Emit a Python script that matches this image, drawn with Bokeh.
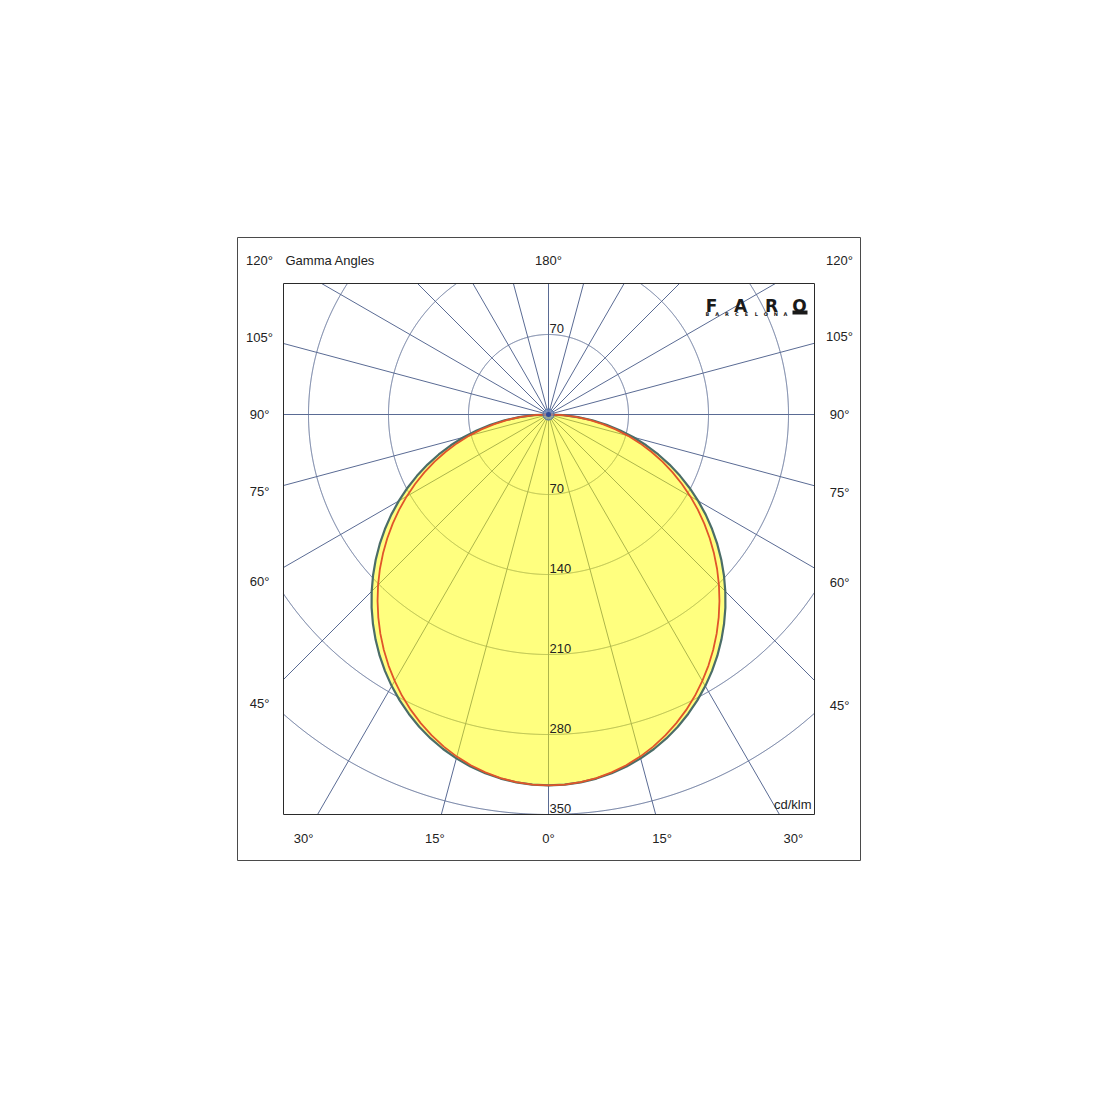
import numpy as np
from bokeh.plotting import figure
from bokeh.models import Range1d
from bokeh.core.properties import value
from bokeh.embed import file_html
from bokeh.resources import INLINE

# ---------------- data (cd/klm) ----------------
gamma_deg = [0, 2.5, 5, 7.5, 10, 12.5, 15, 17.5, 20, 22.5, 25, 27.5, 30, 32.5, 35, 37.5,
             40, 42.5, 45, 47.5, 50, 52.5, 55, 57.5, 60, 62.5, 65, 67.5, 70, 72.5,
             75, 77.5, 80, 82.5, 85, 87.5, 90]
c0_c180 = [324.6, 324.2, 323.1, 321.3, 318.7, 315.5, 311.5, 306.9, 301.6, 295.7,
           289.1, 282.0, 274.4, 266.2, 257.6, 248.5, 239.0, 229.1, 218.8, 208.2,
           197.3, 186.1, 174.7, 163.1, 151.2, 139.2, 127.0, 114.6, 102.2, 89.6,
           77.0, 64.3, 51.5, 38.7, 25.8, 12.9, 0.0]
c90_c270 = [324.6, 324.2, 322.9, 320.9, 318.0, 314.3, 309.9, 304.7, 298.8, 292.3,
            285.2, 277.5, 269.2, 260.5, 251.3, 241.7, 231.7, 221.4, 210.9, 200.1,
            189.0, 177.8, 166.4, 154.9, 143.3, 131.6, 119.8, 107.9, 96.0, 84.1,
            72.1, 60.1, 48.1, 36.1, 24.1, 12.0, 0.0]
ring_values = [70, 140, 210, 280, 350]
ring_labels = ["70", "140", "210", "280", "350"]
side_angles = [45, 60, 75, 90, 105, 120]
side_labels = ["45°", "60°", "75°", "90°", "105°", "120°"]
bottom_angles = [-30, -15, 0, 15, 30]
bottom_labels = ["30°", "15°", "0°", "15°", "30°"]
top_label = "180°"
title_text = "Gamma Angles"
unit_label = "cd/klm"
radial_step = 15
logo_letters = ["F", "A", "R", "O"]
logo_sub = list("BARCELONA")

# ---------------- geometry ----------------
R_MAX = 350.0
PX = R_MAX / 400.0          # data units per screen pixel
W = H = 1084
CX, CY = 548, 414           # centre of the diagram on the page (px)

# plot area (relative to centre, in px)
L, R, T, B = -265 * PX, 266 * PX, 131 * PX, -400 * PX
# outer frame
OL, OR, OT, OB = -311 * PX, 312 * PX, 177 * PX, -446 * PX

FONT = value("Liberation Sans")
GRID = "#5a6b94"
TXT = "#222222"

p = figure(width=W, height=H, output_backend="svg", toolbar_location=None,
           x_range=Range1d(-CX * PX, (W - CX) * PX), y_range=Range1d((CY - H) * PX, CY * PX),
           min_border=0, x_axis_location=None, y_axis_location=None,
           outline_line_color=None, background_fill_color="white")
p.xgrid.visible = False
p.ygrid.visible = False

# outer frame
p.quad(left=[OL], right=[OR], top=[OT], bottom=[OB], fill_color=None,
       line_color="#4a4a4a", line_width=1)

# ---- rings clipped to plot area ----
eps = 1e-6
th = np.radians(np.arange(0, 360.05, 0.1))
xs, ys = [], []
for r in ring_values:
    cx = r * np.cos(th)
    cy = r * np.sin(th)
    inside = (cx >= L - eps) & (cx <= R + eps) & (cy >= B - eps) & (cy <= T + eps)
    seg_x, seg_y = [], []
    for xi, yi, ok in zip(cx, cy, inside):
        if ok:
            seg_x.append(xi)
            seg_y.append(yi)
        else:
            if len(seg_x) > 1:
                xs.append(seg_x)
                ys.append(seg_y)
            seg_x, seg_y = [], []
    if len(seg_x) > 1:
        xs.append(seg_x)
        ys.append(seg_y)
p.multi_line(xs, ys, line_color=GRID, line_width=1)

# ---- radial lines ----
rx, ry = [], []
for g in range(0, 360, radial_step):
    a = np.radians(g)
    dx, dy = np.sin(a), -np.cos(a)
    ts = []
    if dx > 1e-9:
        ts.append(R / dx)
    elif dx < -1e-9:
        ts.append(L / dx)
    if dy > 1e-9:
        ts.append(T / dy)
    elif dy < -1e-9:
        ts.append(B / dy)
    t = min(ts)
    rx.append([0, t * dx])
    ry.append([0, t * dy])
p.multi_line(rx, ry, line_color=GRID, line_width=1)

# ---- photometric curves ----
g_full = [-g for g in gamma_deg[::-1]] + gamma_deg[1:]
def curve(vals):
    v_full = vals[::-1] + vals[1:]
    a = np.radians(g_full)
    return list(np.array(v_full) * np.sin(a)), list(-np.array(v_full) * np.cos(a))

gx, gy = curve(c0_c180)
redx, redy = curve(c90_c270)
p.patch(gx, gy, fill_color="#ffff00", fill_alpha=0.5, line_color=None)
p.line(gx, gy, line_color="#4b6d68", line_width=2.2, line_join="round")
p.line(redx, redy, line_color="#e0552a", line_width=1.8, line_join="round")

# centre marker
p.scatter([0], [0], size=11, marker="circle", fill_color="#7f96c4", fill_alpha=0.6,
          line_color="#4a6fa5", line_width=1)
p.scatter([0], [0], size=5, marker="circle", fill_color="#2d4a9a", line_color=None)

# plot area border
p.quad(left=[L], right=[R], top=[T], bottom=[B], fill_color=None,
       line_color="#2a2a2a", line_width=1)

# ---- ring value labels ----
lab_x = [1 * PX] * (len(ring_values) + 1)
lab_y = [ring_values[0] + 6 * PX] + [-v + 6 * PX for v in ring_values]
lab_t = [ring_labels[0]] + ring_labels
p.text(lab_x, lab_y, text=lab_t, text_font=FONT, text_font_size="13px",
       text_align="left", text_baseline="alphabetic", text_color=TXT)

# ---- angle labels ----
TOP_ROW = 154 * PX
ax, ay, at = [], [], []
for g, lab in zip(side_angles, side_labels):
    a = np.radians(g)
    for sx in (-289 * PX, 291 * PX):
        yy = -abs(sx) * np.cos(a) / np.sin(a)
        ax.append(sx)
        ay.append(min(yy, TOP_ROW))
        at.append(lab)
BOT_ROW = -424 * PX
for g, lab in zip(bottom_angles, bottom_labels):
    ax.append(-BOT_ROW * np.tan(np.radians(g)))
    ay.append(BOT_ROW)
    at.append(lab)
ax.append(0)
ay.append(TOP_ROW)
at.append(top_label)
p.text(ax, ay, text=at, text_font=FONT, text_font_size="13px",
       text_align="center", text_baseline="middle", text_color=TXT)

p.text([-263 * PX], [TOP_ROW], text=[title_text], text_font=FONT, text_font_size="13px",
       text_align="left", text_baseline="middle", text_color=TXT)
p.text([263 * PX], [-390 * PX], text=[unit_label], text_font=FONT, text_font_size="13px",
       text_align="right", text_baseline="alphabetic", text_color=TXT)

# ---- logo ----
logo_cx = [163 * PX, 192 * PX, 223 * PX, 251 * PX]
p.text(logo_cx, [109 * PX] * 4, text=logo_letters, text_font=value("DejaVu Sans"),
       text_font_style="bold", text_font_size="17px", text_align="center",
       text_baseline="alphabetic", text_color="#1a1a1a")
sub_x = [(159 + 9.75 * i) * PX for i in range(len(logo_sub))]
p.text(sub_x, [100.5 * PX] * len(logo_sub), text=logo_sub, text_font=value("DejaVu Sans"),
       text_font_style="bold", text_font_size="5px", text_align="center",
       text_baseline="alphabetic", text_color="#1a1a1a")
p.quad(left=[244 * PX], right=[259 * PX], top=[104 * PX], bottom=[100 * PX],
       fill_color="#1a1a1a", line_color=None)

open("out.html", "w").write(file_html(p, INLINE))
